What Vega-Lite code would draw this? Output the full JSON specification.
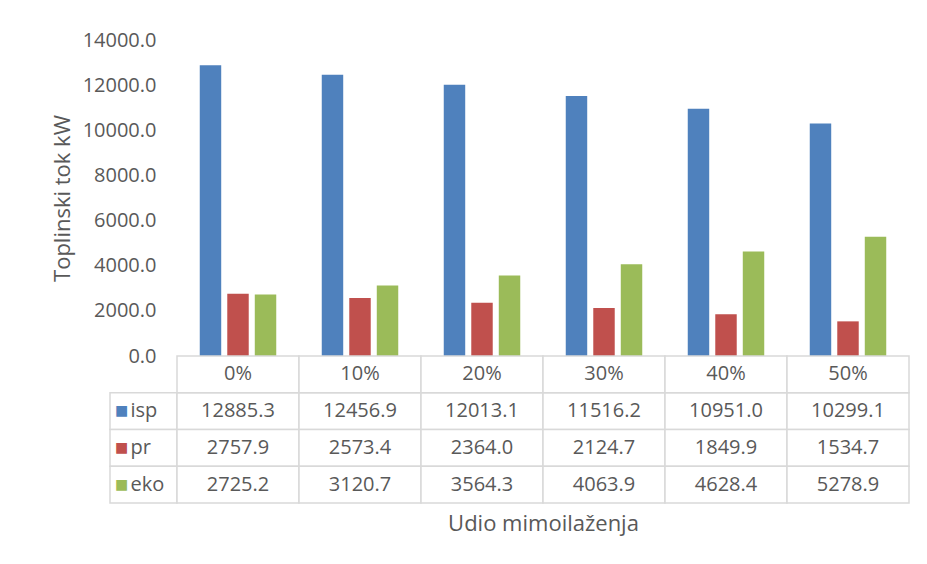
{
  "$schema": "https://vega.github.io/schema/vega-lite/v6.json",
  "padding": {"left": 51, "top": 30, "right": 5, "bottom": 5},
  "background": "white",
  "bounds": "flush",
  "config": {
    "font": "Open Sans",
    "view": {"stroke": null},
    "axis": {"labelColor": "#595959", "titleColor": "#595959"}
  },
  "datasets": {
    "tok": [
      {"cat": "0%", "series": "isp", "value": 12885.3},
      {"cat": "0%", "series": "pr", "value": 2757.9},
      {"cat": "0%", "series": "eko", "value": 2725.2},
      {"cat": "10%", "series": "isp", "value": 12456.9},
      {"cat": "10%", "series": "pr", "value": 2573.4},
      {"cat": "10%", "series": "eko", "value": 3120.7},
      {"cat": "20%", "series": "isp", "value": 12013.1},
      {"cat": "20%", "series": "pr", "value": 2364.0},
      {"cat": "20%", "series": "eko", "value": 3564.3},
      {"cat": "30%", "series": "isp", "value": 11516.2},
      {"cat": "30%", "series": "pr", "value": 2124.7},
      {"cat": "30%", "series": "eko", "value": 4063.9},
      {"cat": "40%", "series": "isp", "value": 10951.0},
      {"cat": "40%", "series": "pr", "value": 1849.9},
      {"cat": "40%", "series": "eko", "value": 4628.4},
      {"cat": "50%", "series": "isp", "value": 10299.1},
      {"cat": "50%", "series": "pr", "value": 1534.7},
      {"cat": "50%", "series": "eko", "value": 5278.9}
    ]
  },
  "data": {"name": "tok"},
  "spacing": 0,
  "vconcat": [
    {
      "width": 799,
      "height": 316,
      "mark": {"type": "bar"},
      "encoding": {
        "x": {
          "field": "cat", "type": "nominal",
          "scale": {"domain": ["0%", "10%", "20%", "30%", "40%", "50%"], "paddingInner": 0, "paddingOuter": 0.2746, "align": 1},
          "axis": null
        },
        "xOffset": {
          "field": "series", "type": "nominal",
          "scale": {"domain": ["isp", "pr", "eko"], "paddingInner": 0.22, "paddingOuter": 0.827}
        },
        "y": {
          "field": "value", "type": "quantitative",
          "scale": {"domain": [0, 14000], "nice": false},
          "axis": {
            "values": [0, 2000, 4000, 6000, 8000, 10000, 12000, 14000],
            "format": ".1f", "grid": false, "domain": false, "ticks": false,
            "offset": -67, "labelPadding": 21, "labelFontSize": 20,
            "title": "Toplinski tok kW", "titleFontSize": 22, "titleFontWeight": "normal", "titlePadding": 8
          }
        },
        "color": {
          "field": "series", "type": "nominal",
          "scale": {"domain": ["isp", "pr", "eko"], "range": ["#4f81bd", "#c0504d", "#9bbb59"]},
          "legend": null
        }
      }
    },
    {
      "spacing": 0,
      "bounds": "flush",
      "hconcat": [
        {
          "width": 67,
          "height": 147,
          "transform": [{"filter": "datum.cat === '0%'"}],
          "encoding": {
            "y": {
              "field": "series", "type": "nominal",
              "scale": {"domain": ["hdr", "isp", "pr", "eko"], "paddingInner": 0, "paddingOuter": 0},
              "axis": null
            }
          },
          "layer": [
            {"mark": {"type": "rect", "fill": "white", "stroke": "#d9d9d9", "strokeWidth": 1.5}},
            {
              "mark": {"type": "text", "text": "■", "font": "DejaVu Sans", "fontSize": 14, "dx": -22},
              "encoding": {
                "color": {
                  "field": "series", "type": "nominal",
                  "scale": {"domain": ["isp", "pr", "eko"], "range": ["#4f81bd", "#c0504d", "#9bbb59"]},
                  "legend": null
                }
              }
            },
            {
              "mark": {"type": "text", "align": "left", "dx": -13, "fontSize": 20, "color": "#595959"},
              "encoding": {"text": {"field": "series", "type": "nominal"}}
            }
          ]
        },
        {
          "width": 732,
          "height": 147,
          "encoding": {
            "x": {
              "field": "cat", "type": "nominal",
              "scale": {"domain": ["0%", "10%", "20%", "30%", "40%", "50%"], "paddingInner": 0, "paddingOuter": 0},
              "axis": {
                "title": "Udio mimoilaženja", "labels": false, "ticks": false, "domain": false,
                "titleFontSize": 22, "titleFontWeight": "normal", "titlePadding": 10
              }
            }
          },
          "layer": [
            {
              "mark": {"type": "rect", "fill": "white", "stroke": "#d9d9d9", "strokeWidth": 1.5},
              "encoding": {
                "y": {
                  "field": "series", "type": "nominal",
                  "scale": {"domain": ["hdr", "isp", "pr", "eko"], "paddingInner": 0, "paddingOuter": 0},
                  "axis": null
                }
              }
            },
            {
              "transform": [{"filter": "datum.series === 'isp'"}],
              "mark": {"type": "rect", "fill": "white", "stroke": "#d9d9d9", "strokeWidth": 1.5},
              "encoding": {"y": {"datum": "hdr", "type": "nominal", "axis": null}}
            },
            {
              "mark": {"type": "text", "fontSize": 20, "color": "#595959"},
              "encoding": {
                "y": {"field": "series", "type": "nominal", "axis": null},
                "text": {"field": "value", "type": "quantitative", "format": ".1f"}
              }
            },
            {
              "transform": [{"filter": "datum.series === 'isp'"}],
              "mark": {"type": "text", "fontSize": 20, "color": "#595959"},
              "encoding": {
                "y": {"datum": "hdr", "type": "nominal", "axis": null},
                "text": {"field": "cat", "type": "nominal"}
              }
            }
          ]
        }
      ]
    }
  ]
}
